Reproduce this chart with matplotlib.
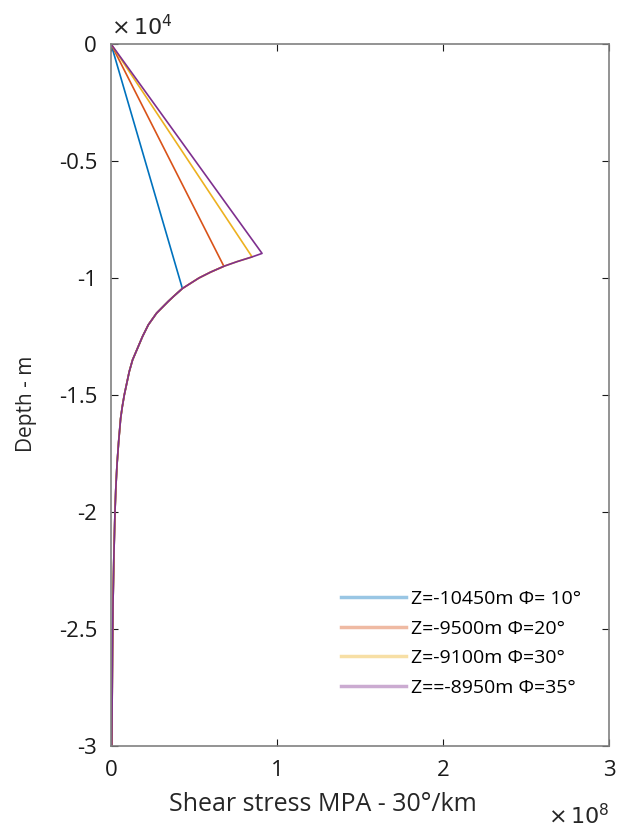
import matplotlib
matplotlib.use("Agg")
import matplotlib.pyplot as plt
import numpy as np
from matplotlib.lines import Line2D
from matplotlib.ticker import FuncFormatter

plt.rcParams['font.family'] = ['Open Sans', 'DejaVu Sans']
plt.rcParams['axes.unicode_minus'] = False

# shared decay curve below the peaks (depth in m, stress in Pa)
curve_depth = np.array([-8950, -9100, -9300, -9500, -9750, -10000, -10450, -10800, -11000,
                        -11500, -12000, -12500, -13000, -13500, -14000, -14500, -15000,
                        -15500, -16000, -17000, -18000, -19000, -20000, -22000, -24000,
                        -26000, -28000, -30000])
curve_stress = np.array([0.91, 0.85, 0.76, 0.68, 0.60, 0.53, 0.43, 0.375, 0.345,
                         0.275, 0.225, 0.19, 0.16, 0.13, 0.11, 0.095, 0.08,
                         0.068, 0.058, 0.046, 0.036, 0.029, 0.024, 0.017, 0.012,
                         0.009, 0.007, 0.005]) * 1e8

peak_depth = [-10450, -9500, -9100, -8950]
peak_stress = [0.43e8, 0.68e8, 0.85e8, 0.91e8]
labels = ["Z=-10450m \u03a6= 10\u00b0", "Z=-9500m \u03a6=20\u00b0",
          "Z=-9100m \u03a6=30\u00b0", "Z==-8950m \u03a6=35\u00b0"]
colors = ["#0072BD", "#D95319", "#EDB120", "#7E2F8E"]

fig = plt.figure(figsize=(6.25, 8.36), dpi=100)
ax = fig.add_axes([0.1776, 0.1077, 0.7968, 0.8397])

handles = []
for d, s, lab, c in zip(peak_depth, peak_stress, labels, colors):
    below = curve_depth <= d
    xs = np.concatenate([[0, s], curve_stress[below]])
    ys = np.concatenate([[0, d], curve_depth[below]])
    ax.plot(xs, ys, color=c, lw=1.2)
    handles.append(Line2D([], [], color=c, lw=2.5, alpha=0.4, label=lab))

ax.set_xlim(0, 3e8)
ax.set_ylim(-3e4, 0)
ax.set_xticks([0, 1e8, 2e8, 3e8])
ax.set_yticks([-3e4, -2.5e4, -2e4, -1.5e4, -1e4, -0.5e4, 0])
ax.xaxis.set_major_formatter(FuncFormatter(lambda v, p: "%g" % (v / 1e8)))
ax.yaxis.set_major_formatter(FuncFormatter(lambda v, p: "%g" % (v / 1e4)))
ax.tick_params(direction='in', top=True, right=True, labelsize=16, colors='#1a1a1a',
               length=5, pad=10)
for sp in ax.spines.values():
    sp.set_color('#808080')
    sp.set_linewidth(1.2)

ax.set_xlabel("Shear stress MPA - 30\u00b0/km", fontsize=18, color='#262626')
ax.xaxis.set_label_coords(0.425, -0.065)
ax.set_ylabel("Depth - m", fontsize=15, color='#262626')
ax.yaxis.set_label_coords(-0.148, 0.487)
ax.text(0, 1.005, r"$\times\,10^4$", transform=ax.transAxes, fontsize=16,
        color='#262626', va='bottom', ha='left')
ax.text(1.0, -0.082, r"$\times\,10^8$", transform=ax.transAxes, fontsize=16,
        color='#262626', va='top', ha='right')

ax.legend(handles=handles, loc='lower right', frameon=False, fontsize=14,
          handlelength=3.3, handletextpad=0.3, labelspacing=0.6,
          bbox_to_anchor=(0.98, 0.045))

fig.savefig("out.png", dpi=100)
